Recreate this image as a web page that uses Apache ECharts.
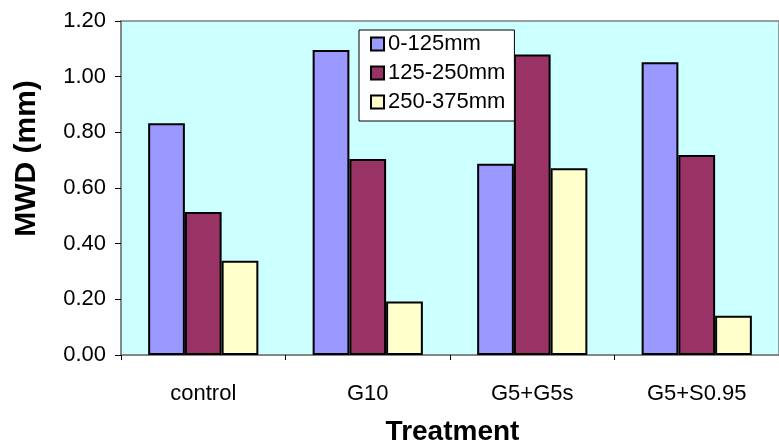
<!DOCTYPE html>
<html>
<head>
<meta charset="utf-8">
<script src="https://cdn.jsdelivr.net/npm/echarts@6/dist/echarts.min.js"></script>
<style>
html,body{margin:0;padding:0;background:#fff;}
#c{width:779px;height:448px;}
</style>
</head>
<body>
<div id="c"></div>
<script>
const categories = ['control', 'G10', 'G5+G5s', 'G5+S0.95'];
const seriesNames = ['0-125mm', '125-250mm', '250-375mm'];
const depth0_125 = [0.833, 1.096, 0.687, 1.052];
const depth125_250 = [0.514, 0.704, 1.080, 0.719];
const depth250_375 = [0.339, 0.192, 0.671, 0.141];
const yTicks = { min: 0, max: 1.2, interval: 0.2 };

const colors = ['#9999ff', '#993366', '#ffffcc'];
const values = [depth0_125, depth125_250, depth250_375];
const font = '"Liberation Sans", Arial, sans-serif';

const chart = echarts.init(document.getElementById('c'), null, { renderer: 'canvas' });
chart.setOption({
  animation: false,
  backgroundColor: '#ffffff',
  grid: {
    left: 121, top: 21, width: 668, height: 334,
    show: true, backgroundColor: '#ccffff',
    borderColor: '#808080', borderWidth: 1.5,
    containLabel: false
  },
  legend: {
    orient: 'vertical',
    left: 359, top: 30,
    padding: [3, 9, 8, 11],
    itemWidth: 13, itemHeight: 13, itemGap: 7,
    backgroundColor: '#ffffff',
    borderColor: '#000000', borderWidth: 1,
    borderRadius: 0,
    icon: 'rect',
    textStyle: { fontFamily: font, fontSize: 22, color: '#000', lineHeight: 22, padding: [0, 0, 0, -1] },
    data: seriesNames
  },
  xAxis: {
    type: 'category',
    data: categories,
    axisLine: { show: true, lineStyle: { color: '#808080', width: 1.5 } },
    axisTick: { show: true, length: 5, lineStyle: { color: '#000' } },
    axisLabel: { fontFamily: font, fontSize: 22, color: '#000', margin: 28 }
  },
  yAxis: {
    type: 'value',
    min: yTicks.min, max: yTicks.max, interval: yTicks.interval,
    axisLine: { show: true, lineStyle: { color: '#808080', width: 1.5 } },
    axisTick: { show: true, length: 6, lineStyle: { color: '#000' } },
    splitLine: { show: false },
    axisLabel: {
      fontFamily: font, fontSize: 22, color: '#000', margin: 15,
      formatter: v => v.toFixed(2)
    }
  },
  graphic: [
    {
      type: 'text', x: 27, y: 158.5, rotation: Math.PI / 2,
      style: { text: 'MWD (mm)', fontFamily: font, fontSize: 30, fontWeight: 'bold', fill: '#000',
        align: 'center', verticalAlign: 'middle' }
    },
    {
      type: 'text', x: 452.5, y: 432,
      style: { text: 'Treatment', fontFamily: font, fontSize: 28, fontWeight: 'bold', fill: '#000',
        align: 'center', verticalAlign: 'middle' }
    }
  ],
  series: seriesNames.map((n, i) => ({
    name: n,
    type: 'bar',
    data: values[i],
    barGap: '0%',
    barCategoryGap: '33%',
    itemStyle: { color: colors[i], borderColor: '#000', borderWidth: 2 }
  }))
});
</script>
</body>
</html>
